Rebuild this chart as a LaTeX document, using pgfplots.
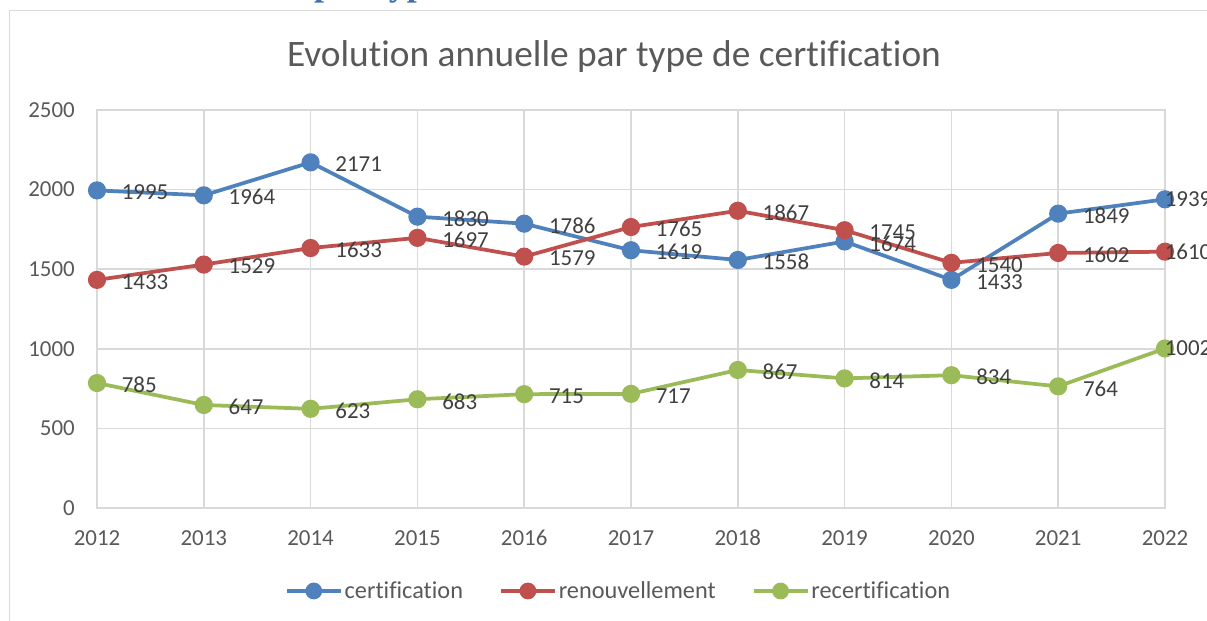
\documentclass[border=0pt]{standalone}
\usepackage{fontspec}
\setmainfont{Carlito}[Ligatures=NoCommon]
\newfontfamily\serifb{Liberation Serif}
\usepackage{pgfplots}
\pgfplotsset{compat=1.18}
\definecolor{cblue}{HTML}{4F81BD}
\definecolor{cred}{HTML}{C0504D}
\definecolor{cgreen}{HTML}{9BBB59}
\definecolor{cgrid}{HTML}{D9D9D9}
\definecolor{ctxt}{HTML}{595959}
\definecolor{clab}{HTML}{404040}
\definecolor{chead}{HTML}{3E6FB0}
\begin{document}
\begin{tikzpicture}
\path[use as bounding box] (0,0) rectangle (1207bp,621bp);
\clip (0,0) rectangle (1207bp,621bp);
\node[anchor=base west, inner sep=0pt, font=\fontsize{36}{36}\selectfont\serifb\bfseries, text=chead] at (314bp,625bp) {par type};
\draw[cgrid, line width=1bp] (9bp,0bp) -- (9bp,610bp) -- (1207bp,610bp);
\node[font=\fontsize{37.5}{37.5}\selectfont, text=ctxt] at (614bp,564bp) {Evolution annuelle par type de certification};
\begin{axis}[
  at={(97bp,113bp)}, anchor=south west,
  scale only axis, width=1068bp, height=398bp,
  xmin=2012, xmax=2022, ymin=0, ymax=2500,
  xtick={2012,2013,...,2022}, ytick={0,500,...,2500},
  /pgf/number format/1000 sep={},
  /pgf/number format/assume math mode=true,
  grid=major,
  grid style={cgrid, line width=1.5bp},
  axis line style={cgrid, line width=1.5bp},
  major tick length=0pt,
  tick style={draw=none},
  tick label style={font=\fontsize{23}{23}\selectfont, text=ctxt, inner sep=0pt},
  xticklabel style={anchor=north, yshift=-22bp},
  yticklabel style={anchor=east, xshift=-22bp},
  clip=false,
  nodes near coords,
  every node near coord/.append style={anchor=west, inner sep=0pt, xshift=23bp, yshift=-2bp, font=\fontsize{23}{23}\selectfont, text=clab},
  coordinate style/.condition={x>2021.5}{xshift=-25bp, yshift=2bp},
  every axis plot/.append style={line width=3.75bp, mark=*, mark size=7.2bp, mark options={solid}},
  legend columns=3,
  legend style={at={(0.4883,-0.2085)}, anchor=center, draw=none, fill=none, font=\fontsize{24.4}{24.4}\selectfont, text=ctxt,
    /tikz/every even column/.append style={column sep=34bp},
    inner sep=0pt, nodes={inner sep=2bp}},
  legend image code/.code={\draw[mark repeat=2,mark phase=2,#1,mark size=6.5bp] plot coordinates {(0bp,0bp)(27bp,0bp)(54bp,0bp)};},
]
\addplot[color=cblue] coordinates {(2012,1995)(2013,1964)(2014,2171)(2015,1830)(2016,1786)(2017,1619)(2018,1558)(2019,1674)(2020,1433)(2021,1849)(2022,1939)};
\addlegendentry{certification}
\addplot[color=cred] coordinates {(2012,1433)(2013,1529)(2014,1633)(2015,1697)(2016,1579)(2017,1765)(2018,1867)(2019,1745)(2020,1540)(2021,1602)(2022,1610)};
\addlegendentry{renouvellement}
\addplot[color=cgreen] coordinates {(2012,785)(2013,647)(2014,623)(2015,683)(2016,715)(2017,717)(2018,867)(2019,814)(2020,834)(2021,764)(2022,1002)};
\addlegendentry{recertification}
\end{axis}
\end{tikzpicture}
\end{document}
